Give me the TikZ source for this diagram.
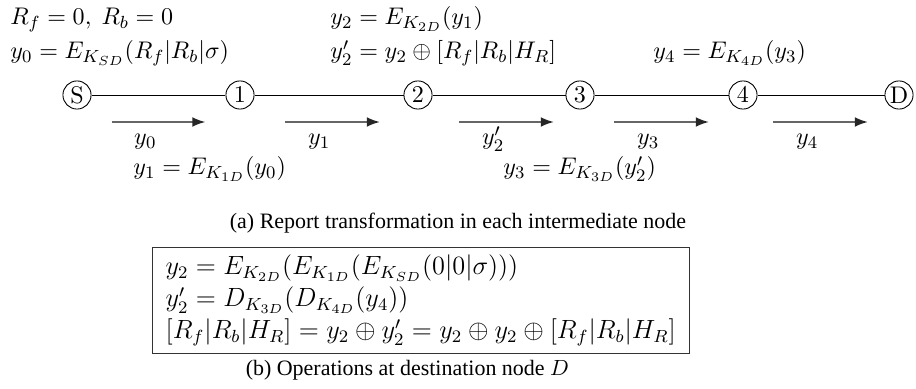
\documentclass[tikz,border=0pt]{standalone}
\usepackage[no-math]{fontspec}
\setmainfont{Liberation Serif}
\usetikzlibrary{arrows.meta,positioning,calc}
\newcommand{\eqsize}{\fontsize{11.2pt}{13.6pt}\selectfont}
\newcommand{\boxsize}{\fontsize{11.8pt}{13.6pt}\selectfont}
\tikzset{
  station/.style={circle,draw,thin,inner sep=0.5pt,minimum size=0.45cm,font=\eqsize},
  hop/.style={thin},
  msg/.style={-{Latex[length=6pt,width=4.5pt,color=black!85]},line width=0.9pt,black!60},
  eqn/.style={anchor=base west,inner sep=0pt,font=\eqsize},
  lbl/.style={anchor=base,inner sep=0pt,font=\eqsize,black},
  capt/.style={anchor=base},
  opbox/.style={draw=black!80,anchor=north west,inner xsep=1pt,inner ysep=2.8pt,font=\boxsize}
}
\begin{document}
\begin{tikzpicture}[x=0.8cm,y=0.8cm]
  \useasboundingbox (0,0) rectangle (18.32,7.78);
  % path from source to destination
  \node[station] (S)  at (1.54,5.88)  {$\mathrm{S}$};
  \node[station] (n1) at (4.80,5.88)  {$1$};
  \node[station] (n2) at (8.36,5.88)  {$2$};
  \node[station] (n3) at (11.60,5.88) {$3$};
  \node[station] (n4) at (14.86,5.88) {$4$};
  \node[station] (D)  at (17.98,5.88) {$\mathrm{D}$};
  \draw[hop] (S) -- (n1) -- (n2) -- (n3) -- (n4) -- (D);
  % reports sent on each hop
  \foreach \a/\b/\t [count=\i] in {2.23/4.11/y_0,5.70/7.60/y_1,9.18/11.08/y_2',12.28/14.18/y_3,15.46/17.36/y_4}{
    \draw[msg] (\a,5.34) coordinate (r\i a) -- (\b,5.34) coordinate (r\i b);
    \node[lbl] (t\i) at ($(r\i a)!0.36!(r\i b)+(0,-0.46)$) {$\t$};
  }
  % operations at the nodes
  \node[eqn] (init) at (0.2,7.28)  {$R_f = 0,\ R_b = 0$};
  \node[eqn] (atS)  at (0.2,6.6)  {$y_0 = E_{K_{SD}}(R_f|R_b|\sigma)$};
  \node[eqn] (at1)  at (2.66,4.28) {$y_1 = E_{K_{1D}}(y_0)$};
  \node[eqn] (at2)  at (6.6,7.28)  {$y_2 = E_{K_{2D}}(y_1)$};
  \node[eqn] (at2b) at (6.6,6.6)  {$y_2' = y_2 \oplus [R_f|R_b|H_R]$};
  \node[eqn] (at3)  at (10.06,4.28) {$y_3 = E_{K_{3D}}(y_2')$};
  \node[eqn] (at4)  at (13.06,6.6) {$y_4 = E_{K_{4D}}(y_3)$};
  \node[capt] (capA) at (9.16,3.2) {(a) Report transformation in each intermediate node};
  % destination
  \node[opbox] (ops) at (3.04,2.84) {$\begin{array}{l}
      y_2 = E_{K_{2D}}(E_{K_{1D}}(E_{K_{SD}}(0|0|\sigma)))\\[1pt]
      y_2' = D_{K_{3D}}(D_{K_{4D}}(y_4))\\[1pt]
      {[R_f|R_b|H_R]} = y_2 \oplus y_2' = y_2 \oplus y_2 \oplus [R_f|R_b|H_R]
    \end{array}$};
  \node[capt,anchor=base west] (capB) at (4.76,0.26) {(b) Operations at destination node $D$};
\end{tikzpicture}
\end{document}
